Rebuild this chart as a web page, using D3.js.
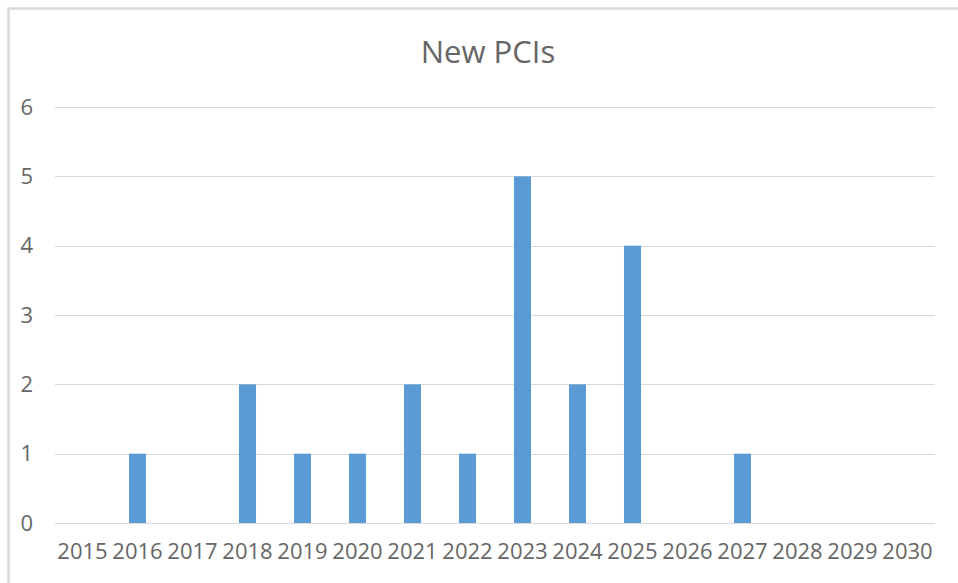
<!DOCTYPE html>
<html>
<head>
<meta charset="utf-8">
<script src="https://cdn.jsdelivr.net/npm/d3@7"></script>
<style>
  body { margin: 0; background: #fff; }
  svg { display: block; }
</style>
</head>
<body>
<div id="chart"></div>
<script>
// chart data
const years = ["2015", "2016", "2017", "2018", "2019", "2020", "2021", "2022",
  "2023", "2024", "2025", "2026", "2027", "2028", "2029", "2030"];
const newPCIs = [0, 1, 0, 2, 1, 1, 2, 1, 5, 2, 4, 0, 1, 0, 0, 0];
const yTicks = [0, 1, 2, 3, 4, 5, 6];
const chartTitle = "New PCIs";

const width = 958;
const height = 583;
const margin = { top: 107, right: 23, bottom: 60, left: 55 };
const innerW = width - margin.left - margin.right;
const innerH = height - margin.top - margin.bottom;

const svg = d3
  .select("#chart")
  .append("svg")
  .attr("width", width)
  .attr("height", height);

// outer chart border (only top and left visible in the frame)
svg
  .append("rect")
  .attr("x", 8.5)
  .attr("y", 8.5)
  .attr("width", 1200)
  .attr("height", 1200)
  .attr("fill", "none")
  .attr("stroke", "#d9d9d9")
  .attr("stroke-width", 2.5);

const g = svg
  .append("g")
  .attr("transform", `translate(${margin.left},${margin.top})`);

const x = d3
  .scaleBand()
  .domain(years)
  .range([0, innerW])
  .paddingInner(0.69)
  .paddingOuter(0.345);

const y = d3.scaleLinear().domain([0, 6]).range([innerH, 0]);

// gridlines
g.append("g")
  .selectAll("line")
  .data(yTicks)
  .enter()
  .append("line")
  .attr("x1", 0)
  .attr("x2", innerW)
  .attr("y1", (d) => Math.round(y(d)) + 0.5)
  .attr("y2", (d) => Math.round(y(d)) + 0.5)
  .attr("stroke", "#d9d9d9")
  .attr("stroke-width", 1);

// bars
g.append("g")
  .selectAll("rect")
  .data(newPCIs)
  .enter()
  .append("rect")
  .attr("x", (d, i) => x(years[i]))
  .attr("width", x.bandwidth())
  .attr("y", (d) => y(d))
  .attr("height", (d) => innerH - y(d))
  .attr("fill", "#5b9bd5");

const font = "'Open Sans', 'Noto Sans', sans-serif";
const textColor = "#666666";

// Y axis
const yAxis = g
  .append("g")
  .call(
    d3.axisLeft(y).tickValues(yTicks).tickFormat(d3.format("d")).tickSize(0).tickPadding(22)
  );
yAxis.select(".domain").remove();
yAxis
  .selectAll("text")
  .style("font-family", font)
  .style("font-size", "22px")
  .attr("fill", textColor);

// X axis
const xAxis = g
  .append("g")
  .attr("transform", `translate(0,${innerH})`)
  .call(d3.axisBottom(x).tickSize(0).tickPadding(20));
xAxis.select(".domain").remove();
xAxis
  .selectAll("text")
  .style("font-family", font)
  .style("font-size", "22px")
  .attr("fill", textColor);

// title
svg
  .append("text")
  .attr("x", 488)
  .attr("y", 63)
  .attr("text-anchor", "middle")
  .style("font-family", font)
  .style("font-size", "31px")
  .attr("fill", textColor)
  .text(chartTitle);
</script>
</body>
</html>
